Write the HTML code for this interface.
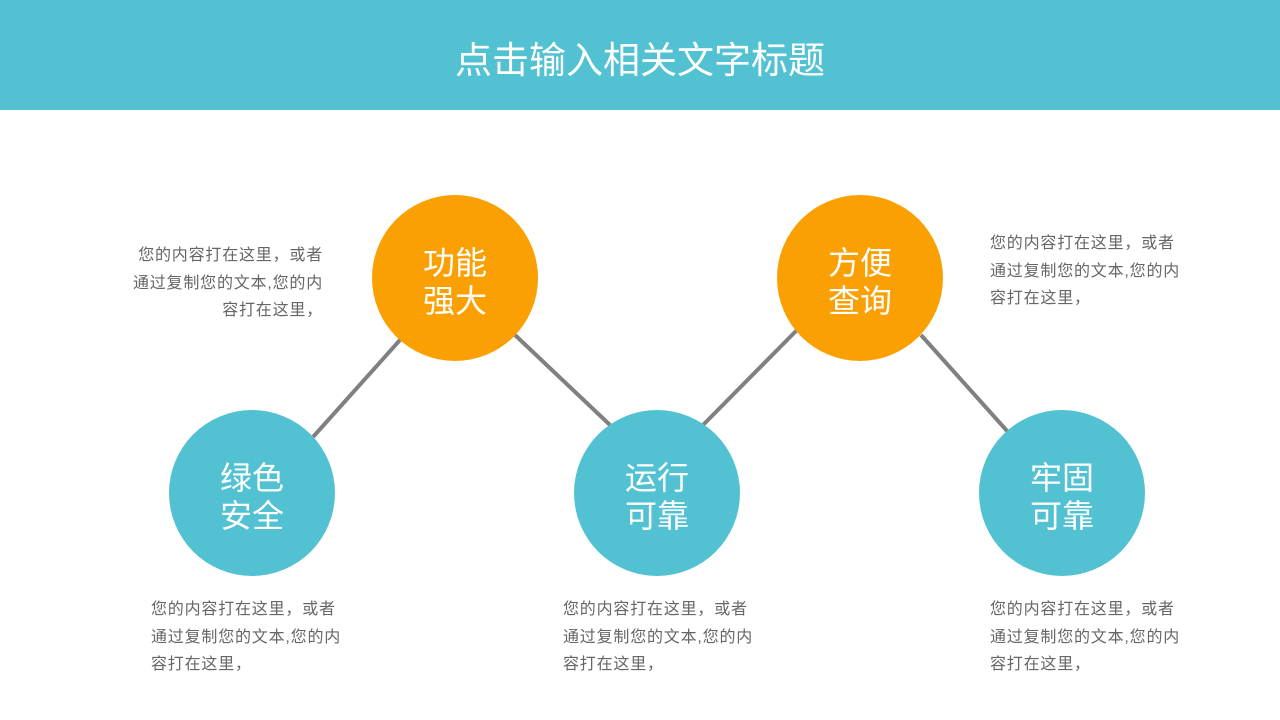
<!DOCTYPE html>
<html><head><meta charset="utf-8"><style>
body{margin:0;width:1280px;height:720px;background:#fff;position:relative;overflow:hidden;font-family:"Liberation Sans","Noto Sans CJK SC",sans-serif}
.hdr{position:absolute;left:0;top:0;width:1280px;height:110px;background:#52C2D2}
.ttl{position:absolute;left:0;top:37px;width:1280px;text-align:center;color:#fff;font-size:37px;line-height:48px}
.c{position:absolute;width:166px;height:166px;border-radius:50%;color:#fff;font-size:32px;line-height:38px;display:flex;align-items:center;justify-content:center;text-align:center}
.c span{position:relative;top:4px}
.o{background:#FBA003}.t{background:#52C2D2}
.tx{position:absolute;color:#666;font-size:16px;line-height:27.5px;width:200px;white-space:nowrap;letter-spacing:0.8px}
</style></head><body>
<div class="hdr"></div><div class="ttl">点击输入相关文字标题</div>
<svg width="1280" height="720" style="position:absolute;left:0;top:0">
<g stroke="#808080" stroke-width="4">
<line x1="313" y1="437" x2="400" y2="340"/><line x1="515" y1="335" x2="610" y2="425"/>
<line x1="703" y1="425" x2="797" y2="330"/><line x1="921" y1="335" x2="1008" y2="432"/></g></svg>
<div class="c o" style="left:372px;top:195px"><span>功能<br>强大</span></div>
<div class="c o" style="left:777px;top:195px"><span>方便<br>查询</span></div>
<div class="c t" style="left:169px;top:410px"><span>绿色<br>安全</span></div>
<div class="c t" style="left:574px;top:410px"><span>运行<br>可靠</span></div>
<div class="c t" style="left:979px;top:410px"><span>牢固<br>可靠</span></div>
<div class="tx" style="left:123px;top:242px;text-align:right">您的内容打在这里，或者<br>通过复制您的文本,您的内<br>容打在这里，</div>
<div class="tx" style="left:990px;top:230px">您的内容打在这里，或者<br>通过复制您的文本,您的内<br>容打在这里，</div>
<div class="tx" style="left:151px;top:596px">您的内容打在这里，或者<br>通过复制您的文本,您的内<br>容打在这里，</div>
<div class="tx" style="left:563px;top:596px">您的内容打在这里，或者<br>通过复制您的文本,您的内<br>容打在这里，</div>
<div class="tx" style="left:990px;top:596px">您的内容打在这里，或者<br>通过复制您的文本,您的内<br>容打在这里，</div>
</body></html>
